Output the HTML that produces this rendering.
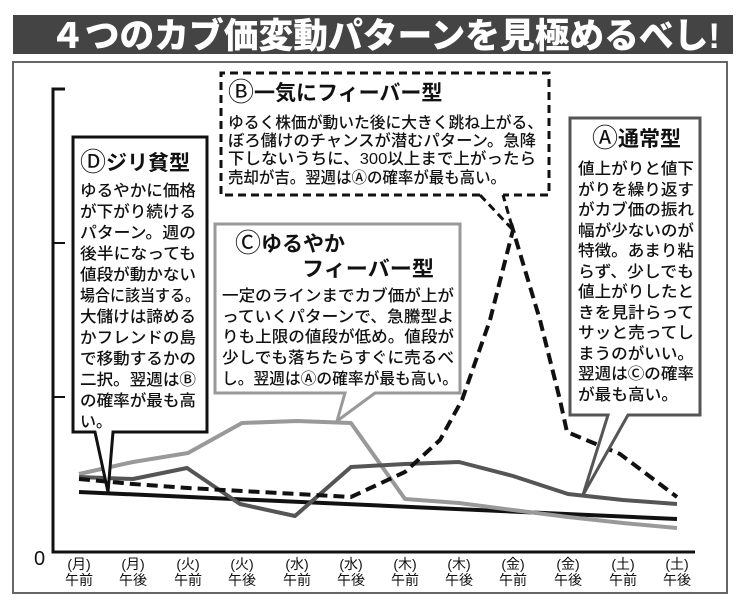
<!DOCTYPE html>
<html><head><meta charset="utf-8"><style>
html,body{margin:0;padding:0;background:#fff;}
svg{display:block;}
text{font-family:"Liberation Sans","Noto Sans CJK JP",sans-serif;fill:#111;}
.t{font-size:16px;font-weight:500;}
.h{font-size:21px;font-weight:700;}
.c{font-size:26px;font-weight:400;}
</style></head><body>
<svg width="750" height="612" viewBox="0 0 750 612" xmlns="http://www.w3.org/2000/svg">
<rect width="750" height="612" fill="#fff"/>
<rect x="13" y="15" width="720" height="39" fill="#444"/>
<text x="50" y="48" style="font-size:35px;font-weight:900;fill:#fff" textLength="670" lengthAdjust="spacingAndGlyphs">４つのカブ価変動パターンを見極めるべし!</text>
<rect x="13" y="62" width="714" height="531" fill="none" stroke="#666" stroke-width="2"/>
<!-- axes -->
<polyline points="65,89 53,89 53,552 695,552" fill="none" stroke="#111" stroke-width="3"/>
<line x1="53" y1="243" x2="65" y2="243" stroke="#111" stroke-width="2"/>
<line x1="53" y1="397" x2="65" y2="397" stroke="#111" stroke-width="2"/>
<text x="34" y="565" style="font-size:20px">0</text>
<g style="font-size:14px" text-anchor="middle">
<text x="79" y="569">(月)</text><text x="79" y="585">午前</text>
<text x="133" y="569">(月)</text><text x="133" y="585">午後</text>
<text x="188" y="569">(火)</text><text x="188" y="585">午前</text>
<text x="242" y="569">(火)</text><text x="242" y="585">午後</text>
<text x="297" y="569">(水)</text><text x="297" y="585">午前</text>
<text x="351" y="569">(水)</text><text x="351" y="585">午後</text>
<text x="405" y="569">(木)</text><text x="405" y="585">午前</text>
<text x="459" y="569">(木)</text><text x="459" y="585">午後</text>
<text x="513" y="569">(金)</text><text x="513" y="585">午前</text>
<text x="568" y="569">(金)</text><text x="568" y="585">午後</text>
<text x="623" y="569">(土)</text><text x="623" y="585">午前</text>
<text x="677" y="569">(土)</text><text x="677" y="585">午後</text>
</g>
<!-- series -->
<polyline points="79,492 677,519" fill="none" stroke="#111" stroke-width="4"/>
<polyline points="79,474 133,462 188,453 242,423 297,421 351,423 405,499 459,503 513,510 568,517 623,523 677,528" fill="none" stroke="#999" stroke-width="4" stroke-linejoin="round"/>
<polyline points="79,477 133,479 187,468 240,504 295,516 351,467 405,464 459,462 513,476 568,494 623,500 677,504" fill="none" stroke="#555" stroke-width="4" stroke-linejoin="round"/>
<polyline points="79,479 133,484 188,488 242,491 297,494 351,497 405,472 440,440 462,400 490,320 513,230 540,320 560,400 567,432 620,454 677,497" fill="none" stroke="#111" stroke-width="4" stroke-dasharray="11,6"/>
<!-- D box -->
<polygon points="73,137 207,137 207,432 113,432 108,492 95,432 73,432" fill="#fff" stroke="#111" stroke-width="3"/>
<text x="80" y="170" class="h"><tspan class="c" dy="1">Ⓓ</tspan><tspan dy="-1">ジリ貧型</tspan></text>
<g class="t">
<text x="80" y="196" textLength="116" lengthAdjust="spacingAndGlyphs">ゆるやかに価格</text>
<text x="80" y="217" textLength="116" lengthAdjust="spacingAndGlyphs">が下がり続ける</text>
<text x="80" y="238" textLength="116" lengthAdjust="spacingAndGlyphs">パターン。週の</text>
<text x="80" y="259" textLength="116" lengthAdjust="spacingAndGlyphs">後半になっても</text>
<text x="80" y="280" textLength="116" lengthAdjust="spacingAndGlyphs">値段が動かない</text>
<text x="80" y="301" textLength="120" lengthAdjust="spacingAndGlyphs">場合に該当する。</text>
<text x="80" y="322" textLength="116" lengthAdjust="spacingAndGlyphs">大儲けは諦める</text>
<text x="80" y="343" textLength="116" lengthAdjust="spacingAndGlyphs">かフレンドの島</text>
<text x="80" y="364" textLength="116" lengthAdjust="spacingAndGlyphs">で移動するかの</text>
<text x="80" y="385" textLength="116" lengthAdjust="spacingAndGlyphs">二択。翌週はⒷ</text>
<text x="80" y="406" textLength="116" lengthAdjust="spacingAndGlyphs">の確率が最も高</text>
<text x="80" y="427">い。</text>
</g>
<!-- B box -->
<polyline points="480,195 221,195 221,73 549,73 549,195 503,195" fill="#fff" stroke="#111" stroke-width="3" stroke-dasharray="8,5"/>
<polyline points="480,195 513,230 503,195" fill="none" stroke="#111" stroke-width="3" stroke-dasharray="8,5"/>
<text x="228" y="100" class="h"><tspan class="c" dy="1">Ⓑ</tspan><tspan dy="-1">一気にフィーバー型</tspan></text>
<g class="t">
<text x="228" y="128" textLength="315" lengthAdjust="spacingAndGlyphs">ゆるく株価が動いた後に大きく跳ね上がる、</text>
<text x="228" y="146" textLength="308" lengthAdjust="spacingAndGlyphs">ぼろ儲けのチャンスが潜むパターン。急降</text>
<text x="228" y="164" textLength="308" lengthAdjust="spacingAndGlyphs">下しないうちに、300以上まで上がったら</text>
<text x="228" y="183" textLength="278" lengthAdjust="spacingAndGlyphs">売却が吉。翌週はⒶの確率が最も高い。</text>
</g>
<!-- C box -->
<polygon points="215,224 460,224 460,393 375,393 337,421 345,393 215,393" fill="#fff" stroke="#999" stroke-width="3"/>
<text x="235" y="251" class="h"><tspan class="c" dy="1">Ⓒ</tspan><tspan dy="-1">ゆるやか</tspan></text>
<text x="302" y="276" class="h" textLength="132" lengthAdjust="spacingAndGlyphs">フィーバー型</text>
<g class="t">
<text x="222" y="301" textLength="232" lengthAdjust="spacingAndGlyphs">一定のラインまでカブ価が上が</text>
<text x="222" y="322" textLength="232" lengthAdjust="spacingAndGlyphs">っていくパターンで、急騰型よ</text>
<text x="222" y="342" textLength="232" lengthAdjust="spacingAndGlyphs">りも上限の値段が低め。値段が</text>
<text x="222" y="363" textLength="232" lengthAdjust="spacingAndGlyphs">少しでも落ちたらすぐに売るべ</text>
<text x="222" y="384" textLength="236" lengthAdjust="spacingAndGlyphs">し。翌週はⒶの確率が最も高い。</text>
</g>
<!-- A box -->
<polygon points="570,118 700,118 700,415 628,415 583,495 608,415 570,415" fill="#fff" stroke="#555" stroke-width="3"/>
<text x="592" y="146" class="h"><tspan class="c" dy="1">Ⓐ</tspan><tspan dy="-1">通常型</tspan></text>
<g class="t">
<text x="578" y="174" textLength="116" lengthAdjust="spacingAndGlyphs">値上がりと値下</text>
<text x="578" y="195" textLength="116" lengthAdjust="spacingAndGlyphs">がりを繰り返す</text>
<text x="578" y="215" textLength="116" lengthAdjust="spacingAndGlyphs">がカブ価の振れ</text>
<text x="578" y="236" textLength="116" lengthAdjust="spacingAndGlyphs">幅が少ないのが</text>
<text x="578" y="256" textLength="116" lengthAdjust="spacingAndGlyphs">特徴。あまり粘</text>
<text x="578" y="277" textLength="116" lengthAdjust="spacingAndGlyphs">らず、少しでも</text>
<text x="578" y="297" textLength="116" lengthAdjust="spacingAndGlyphs">値上がりしたと</text>
<text x="578" y="318" textLength="116" lengthAdjust="spacingAndGlyphs">きを見計らって</text>
<text x="578" y="338" textLength="116" lengthAdjust="spacingAndGlyphs">サッと売ってし</text>
<text x="578" y="359" textLength="116" lengthAdjust="spacingAndGlyphs">まうのがいい。</text>
<text x="578" y="379" textLength="116" lengthAdjust="spacingAndGlyphs">翌週はⒸの確率</text>
<text x="578" y="400" textLength="100" lengthAdjust="spacingAndGlyphs">が最も高い。</text>
</g>
</svg>
</body></html>
